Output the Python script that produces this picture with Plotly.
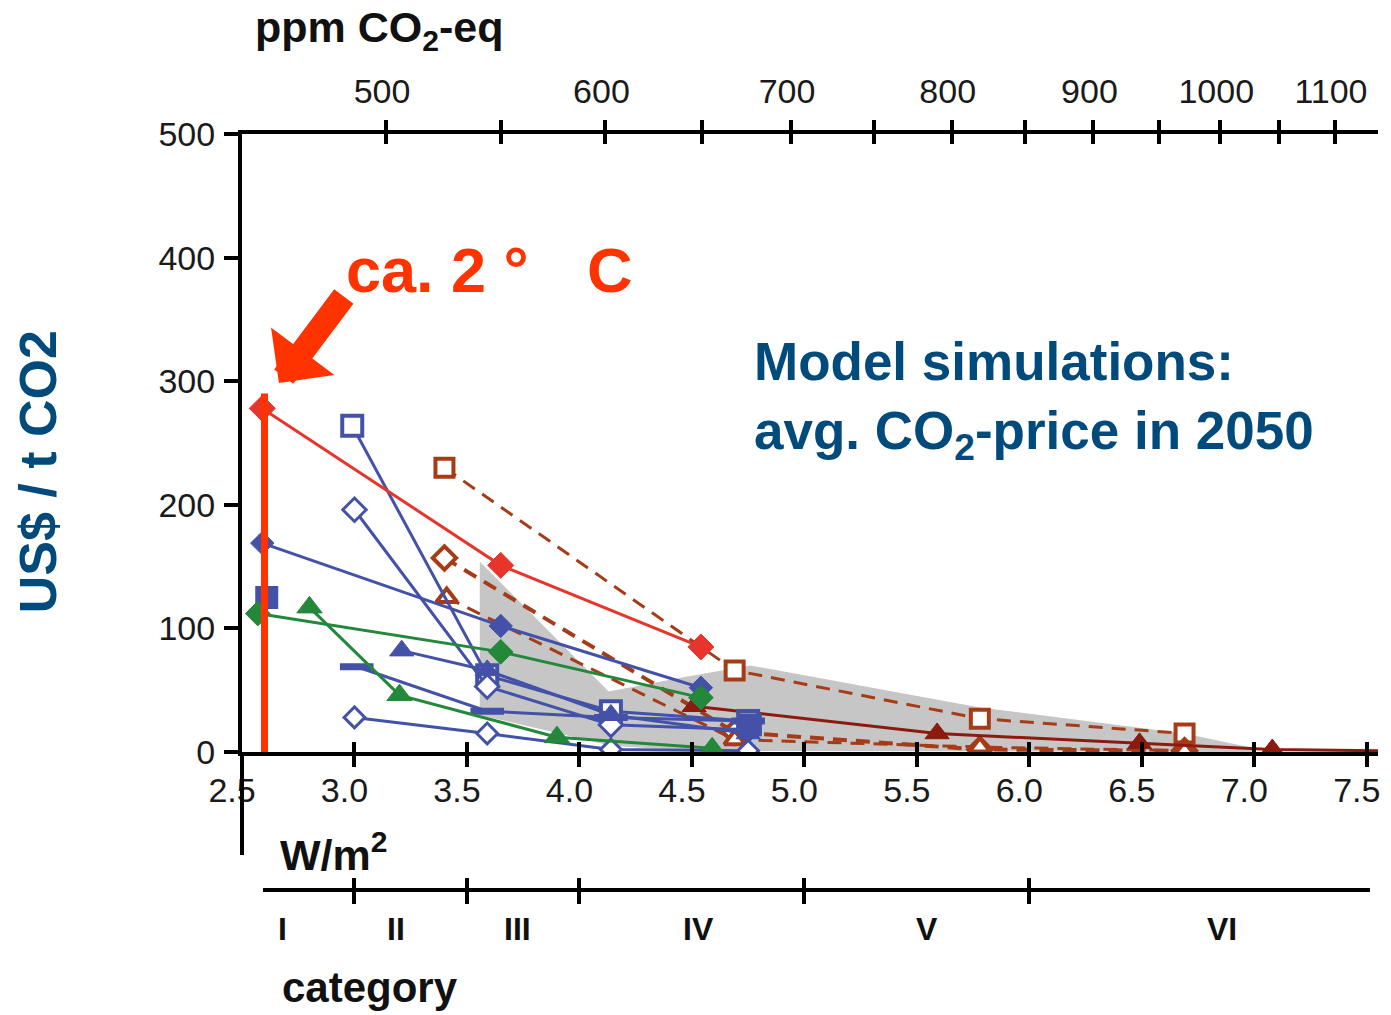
import math
import plotly.graph_objects as go

# ---------------- data ----------------
# x: radiative forcing W/m^2, y: US$/t CO2
red_x = [2.59, 3.65, 4.54]
red_y = [278, 151, 85]

blue_a_x = [2.59, 3.65, 4.54]
blue_a_y = [169, 102, 52]

blue_sq_x = [2.61, 4.76]
blue_sq_y = [125, 22]

blue_c_x = [2.99, 3.59, 4.14, 4.75]
blue_c_y = [264, 62, 33, 25]

blue_d_x = [3.00, 3.59, 4.14, 4.75]
blue_d_y = [196, 53, 22, 18]

blue_e_x = [3.21, 3.59, 4.14, 4.75]
blue_e_y = [82, 66, 30, 15]

blue_f_x = [3.01, 3.59, 4.14, 4.75]
blue_f_y = [69, 33, 28, 25]

blue_g_x = [3.00, 3.59, 4.14, 4.75]
blue_g_y = [28, 15, 2, 1]

green_a_x = [2.57, 3.65, 4.54]
green_a_y = [112, 81, 44]

green_b_x = [2.80, 3.20, 3.90, 4.59]
green_b_y = [117, 46, 12, 3]

brown_a_x = [3.40, 4.69, 5.78, 6.69]
brown_a_y = [230, 66, 27, 15]

brown_b_x = [3.40, 4.69, 5.78, 6.69]
brown_b_y = [157, 16, 2, 1]

brown_c_x = [3.41, 4.69, 5.78, 6.69]
brown_c_y = [125, 10, 4, 1]

darkred_x = [4.51, 5.59, 6.49, 7.08, 7.55]
darkred_y = [37, 15, 7, 2, 1]

range_x = [3.557, 4.13, 4.45, 4.76, 5.78, 6.69, 7.00, 7.00, 4.50, 4.14, 3.557]
range_y = [154, 49, 60, 70, 36, 15, 3, 0, 1, 5, 30]

two_deg_x = [2.60, 2.60]
two_deg_y = [0, 290]

wm2_ticks = [2.5, 3.0, 3.5, 4.0, 4.5, 5.0, 5.5, 6.0, 6.5, 7.0, 7.5]
wm2_labels = ["2.5", "3.0", "3.5", "4.0", "4.5", "5.0", "5.5", "6.0", "6.5", "7.0", "7.5"]
ppm_ticks = [500, 550, 600, 650, 700, 750, 800, 850, 900, 950, 1000, 1050, 1100]
ppm_labels = ["500", "", "600", "", "700", "", "800", "", "900", "", "1000", "", "1100"]
y_ticks = [0, 100, 200, 300, 400, 500]
category_bounds = [3.0, 3.5, 4.0, 5.0, 6.0]
category_labels = ["I", "II", "III", "IV", "V", "VI"]
category_label_x = [2.68, 3.185, 3.725, 4.53, 5.545, 6.855]


def forcing(ppm):
    return 5.35 * math.log(ppm / 278.0)


ppm_pos = [forcing(p) for p in ppm_ticks]

# ---------------- layout geometry ----------------
W, H = 1391, 1015
ML, MR, MT, MB = 242, 11, 134, 125
PW = W - ML - MR
PH = H - MT - MB
XR = [2.5, 7.55]
zero_px = 752
ydom0 = (H - MB - zero_px) / PH


def px(xp):
    return (xp - ML) / PW


def py(yp):
    return (H - MB - yp) / PH


def xdata(xp):
    return XR[0] + (xp - ML) / PW * (XR[1] - XR[0])


BLUE = "#4352a8"
RED = "#e8352c"
GREEN = "#23883a"
BROWN = "#a63c17"
DARKRED = "#8c1a0e"
ORANGE = "#ff3300"
NAVY = "#004a7c"
FONT = "Liberation Sans, Arial, sans-serif"

fig = go.Figure()

fig.add_trace(go.Scatter(x=range_x, y=range_y, mode="lines", fill="toself",
                         fillcolor="#c6c6c6", line=dict(width=0), hoverinfo="skip"))


def series(x, y, color, symbol, dash="solid", size=15, lw=3, mlw=3, hollow=False):
    fig.add_trace(go.Scatter(
        x=x, y=y, mode="lines+markers",
        line=dict(color=color, width=lw, dash=dash),
        marker=dict(symbol=symbol, size=size,
                    color="white" if hollow else color,
                    line=dict(color=color, width=mlw)),
    ))


DASH = "14px,9px"
series(brown_a_x, brown_a_y, BROWN, "square", dash=DASH, size=18, lw=3, mlw=4, hollow=True)
series(brown_b_x, brown_b_y, BROWN, "diamond", dash=DASH, size=18, lw=4, mlw=4, hollow=True)
series(brown_c_x, brown_c_y, BROWN, "triangle-up", dash=DASH, size=18, lw=3, mlw=4, hollow=True)

# dark red solid series: line through all points, markers on the model points
fig.add_trace(go.Scatter(x=darkred_x, y=darkred_y, mode="lines",
                         line=dict(color=DARKRED, width=3)))
fig.add_trace(go.Scatter(x=darkred_x[:-1], y=darkred_y[:-1], mode="markers",
                         marker=dict(symbol="triangle-up", size=21, color=DARKRED,
                                     line=dict(color=DARKRED, width=1))))

series(blue_c_x, blue_c_y, BLUE, "square", size=20, lw=3, mlw=4, hollow=True)
series(blue_d_x, blue_d_y, BLUE, "diamond", size=18, lw=3, mlw=3, hollow=True)
series(blue_e_x, blue_e_y, BLUE, "triangle-up", size=21, lw=3, mlw=1)
series(blue_f_x, blue_f_y, BLUE, "line-ew", size=24, lw=3, mlw=7)
series(blue_g_x, blue_g_y, BLUE, "diamond", size=16, lw=3, mlw=3, hollow=True)
series(blue_a_x, blue_a_y, BLUE, "diamond", size=18, lw=3, mlw=1)
fig.add_trace(go.Scatter(x=blue_sq_x, y=blue_sq_y, mode="markers",
                         marker=dict(symbol="square", size=23, color=BLUE)))

series(green_a_x, green_a_y, GREEN, "diamond", size=19, lw=3, mlw=1)
series(green_b_x, green_b_y, GREEN, "triangle-up", size=22, lw=3, mlw=1)
series(red_x, red_y, RED, "diamond", size=20, lw=3, mlw=1)

fig.add_trace(go.Scatter(x=two_deg_x, y=two_deg_y, mode="lines",
                         line=dict(color=ORANGE, width=7)))

# empty traces so that every auxiliary axis is created
for ax in ["x2", "x3", "x4", "x5", "x6"]:
    fig.add_trace(go.Scatter(x=[None], y=[None], xaxis=ax, yaxis="y", showlegend=False,
                             hoverinfo="skip"))

tickfont = dict(family=FONT, size=34, color="#1a1a1a")
common = dict(range=XR, showgrid=False, zeroline=False, tickwidth=4, tickcolor="black")

cat_dom = [px(263), px(1372)]
cat_rng = [xdata(263), xdata(1372)]

fig.update_layout(
    width=W, height=H,
    margin=dict(l=ML, r=MR, t=MT, b=MB),
    paper_bgcolor="white", plot_bgcolor="rgba(0,0,0,0)",
    showlegend=False,
    xaxis=dict(**common, anchor="y", side="bottom", showline=True, linewidth=4, linecolor="black",
               ticks="outside", ticklen=11, tickvals=wm2_ticks, ticktext=wm2_labels,
               tickfont=tickfont, ticklabelstandoff=-6, ticklabelshift=-10),
    xaxis2=dict(**common, overlaying="x", anchor="y", side="bottom", ticks="inside", ticklen=10,
                tickvals=wm2_ticks, showticklabels=False, showline=False),
    xaxis3=dict(**common, overlaying="x", anchor="y", side="top", showline=True, linewidth=4,
                linecolor="black", ticks="outside", ticklen=10, tickvals=ppm_pos,
                ticktext=ppm_labels, tickfont=tickfont, ticklabelstandoff=3, ticklabelshift=-4),
    xaxis4=dict(**common, overlaying="x", anchor="y", side="top", ticks="inside", ticklen=10,
                tickvals=ppm_pos, showticklabels=False, showline=False),
    xaxis5=dict(range=cat_rng, domain=cat_dom, anchor="free", position=0, side="bottom",
                showgrid=False, zeroline=False, showline=True, linewidth=4, linecolor="black",
                ticks="outside", ticklen=12, tickwidth=4, tickcolor="black",
                tickvals=category_bounds, showticklabels=False),
    xaxis6=dict(range=cat_rng, domain=cat_dom, anchor="free", position=0, side="bottom",
                showgrid=False, zeroline=False, showline=False,
                ticks="inside", ticklen=12, tickwidth=4, tickcolor="black",
                tickvals=category_bounds, showticklabels=False),
    yaxis=dict(range=[0, 500], domain=[ydom0, 1], showgrid=False, zeroline=False,
               showline=True, linewidth=4, linecolor="black", ticks="outside", ticklen=14,
               tickwidth=4, tickcolor="black", tickvals=y_ticks, tickfont=tickfont,
               ticklabelstandoff=2),
)

# y-axis extension below zero
fig.add_shape(type="line", xref="paper", yref="paper", x0=0, x1=0,
              y0=py(855), y1=ydom0, line=dict(color="black", width=4), layer="above")

ann = []


def text(t, xp, yp, size, color="#111111", bold=False, xanchor="left", yanchor="middle", angle=0):
    ann.append(dict(text=t, x=px(xp), y=py(yp), xref="paper", yref="paper", showarrow=False,
                    xanchor=xanchor, yanchor=yanchor, textangle=angle, align="left",
                    font=dict(family=FONT, size=size, color=color,
                              weight="bold" if bold else "normal")))


text("ppm CO<sub>2</sub>-eq", 253, 30, 43, bold=True)
text("W/m<sup>2</sup>", 278, 852, 43, bold=True)
text("category", 280, 988, 42, bold=True)
for lab, xv in zip(category_labels, category_label_x):
    ann.append(dict(text=lab, x=xv, y=py(929), xref="x", yref="paper", showarrow=False,
                    xanchor="center", yanchor="middle",
                    font=dict(family=FONT, size=32, color="#111111", weight="bold")))

text("US$ / t CO2", 38, 472, 52, color=NAVY, bold=True, xanchor="center", angle=-90)
text("Model simulations:<br>avg. CO<sub>2</sub>-price in 2050", 753, 400, 53, color=NAVY, bold=True)
text("ca. 2\u00a0°", 344, 270, 63, color=ORANGE, bold=True)
text("C", 586, 270, 63, color=ORANGE, bold=True)

# arrow pointing at the 2 degree line
ann.append(dict(x=px(279), y=py(383), xref="paper", yref="paper", ax=66, ay=-88,
                showarrow=True, arrowhead=1, arrowsize=0.55, arrowwidth=24,
                arrowcolor=ORANGE, text=""))

fig.update_layout(annotations=ann)

fig.write_html("out.html")
